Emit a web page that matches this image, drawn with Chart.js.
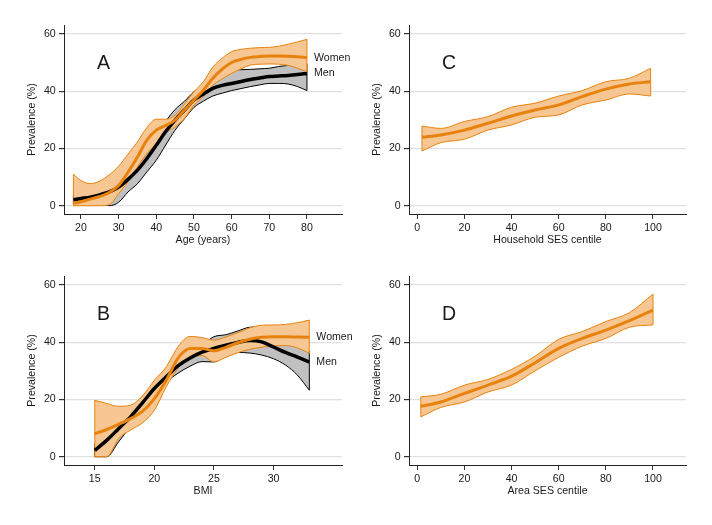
<!DOCTYPE html>
<html>
<head>
<meta charset="utf-8">
<script src="https://cdn.jsdelivr.net/npm/chart.js@4"></script>
<style>
  body { margin: 0; background: #fff; width: 712px; height: 525px; position: relative; overflow: hidden; }
  canvas { position: absolute; }
</style>
</head>
<body>
<canvas id="cA" width="356" height="251" style="left:0;top:0"></canvas>
<canvas id="cC" width="356" height="251" style="left:356px;top:0"></canvas>
<canvas id="cB" width="356" height="274" style="left:0;top:251px"></canvas>
<canvas id="cD" width="356" height="274" style="left:356px;top:251px"></canvas>
<script>
// Panel A: age
const ageX = [18, 20, 22.5, 25, 27.5, 30, 32.5, 35, 37.5, 40, 42.5, 45, 47.5, 50, 52.5, 55, 57.5, 60, 62.5, 65, 67.5, 70, 72.5, 75, 77.5, 80];
const ageWomenMid = [0.9, 1.4, 2.3, 3.2, 4.6, 7.1, 11.7, 17, 22.9, 26.4, 28, 29.9, 33.4, 36.9, 40.3, 44.5, 47.7, 50, 51.1, 51.8, 52.1, 52.3, 52.3, 52.2, 52, 51.7];
const ageWomenHi = [11, 8.8, 7.7, 8.6, 10.8, 13.8, 18, 22.3, 27.3, 30.2, 30.2, 31.6, 35.5, 39.8, 43.3, 48.4, 51.5, 53.8, 54.6, 55, 55.2, 55.3, 55.7, 56.4, 57.2, 58.1];
const ageWomenLo = [0, 0, 0, 0, 0.3, 4.2, 8.3, 13.5, 18.2, 21.7, 25.5, 27.5, 30.5, 35.1, 38.1, 42, 44.3, 46.2, 47.8, 49.1, 49.4, 49.5, 49.4, 49, 48, 46.8];
const ageMenMid = [2.1, 2.5, 3, 3.8, 4.8, 6.5, 9.2, 12.4, 16.5, 21.1, 25.9, 29.9, 33.4, 36.9, 39, 41, 42, 42.7, 43.4, 44.1, 44.6, 45.1, 45.3, 45.5, 45.8, 46.2];
const ageMenHi = [3.6, 4, 4.8, 6, 7.5, 9.5, 12.5, 16, 20, 24.6, 29.5, 33.6, 36.5, 39.8, 42, 44.5, 46.3, 47.4, 47.5, 47.6, 47.8, 48, 48.6, 49, 49.3, 49.5];
const ageMenLo = [0.6, 0.8, 0.8, 0.5, 0, 1.2, 4.8, 7.7, 11.8, 15.9, 21.2, 26.4, 30.4, 34.3, 36.5, 38.3, 39.3, 40.2, 40.9, 41.6, 42.2, 42.7, 42.7, 42.5, 41.6, 40.2];

// Panel B: BMI
const bmiX = [15, 16, 17, 18, 19, 20, 21, 22, 23, 24, 25, 26, 27, 28, 29, 30, 31, 32, 33];
const bmiWomenMid = [8, 9.5, 11.3, 13.3, 15.8, 20.3, 26.7, 34.5, 37.8, 37.8, 37, 38.2, 39.8, 41, 41.7, 41.9, 41.9, 41.8, 41.7];
const bmiWomenHi = [19.7, 18.6, 17.6, 18, 21.2, 26.7, 31.4, 38.5, 42, 41.6, 40.7, 41.8, 43.3, 45, 45.9, 46, 46.2, 46.8, 47.7];
const bmiWomenLo = [0, 0, 6.3, 9.3, 11.8, 16.2, 24.4, 31, 34.5, 35.3, 33.1, 34.7, 36.3, 37.5, 38.2, 38.7, 38.8, 38, 36.1];
const bmiMenMid = [2.2, 5.7, 9.8, 13.9, 18.8, 23.8, 27.9, 31.8, 34.5, 36.5, 37.8, 38.9, 39.9, 40.6, 40.1, 38.3, 36.4, 34.8, 33.1];
const bmiMenHi = [4.5, 8.2, 12.3, 16.6, 21, 25.8, 30, 33.8, 37, 39, 41.9, 42.6, 43.9, 45.2, 45.3, 44.5, 42.5, 40, 37];
const bmiMenLo = [0, 0, 5.2, 10.6, 16.5, 22, 26.1, 29.2, 31.6, 33.2, 33.1, 35.3, 36.4, 36.2, 35.5, 34.2, 32, 28.5, 23.2];

// Panel C: household SES centile
const hhX = [2, 10, 20, 30, 40, 50, 60, 70, 80, 90, 99];
const hhMid = [23.9, 24.7, 26.4, 28.8, 31.3, 33.4, 35.2, 38.1, 40.7, 42.5, 43.3];
const hhHi = [27.8, 27, 29.4, 31.1, 34.4, 35.8, 38.3, 40.2, 43.3, 44.5, 48];
const hhLo = [19.1, 22, 23.2, 26.4, 28.2, 30.9, 31.7, 35.2, 36.9, 39, 38.3];

// Panel D: area SES centile
const areaX = [1.5, 10, 20, 30, 40, 50, 60, 70, 80, 90, 100];
const areaMid = [17.6, 19.1, 22.1, 25, 28.1, 32.8, 37.8, 41.3, 44.2, 47.5, 51.2];
const areaHi = [20.9, 21.8, 25, 27, 30.5, 35.1, 41, 43.7, 47.2, 50.3, 56.8];
const areaLo = [13.9, 17.2, 19.1, 22.6, 25, 30, 34.7, 38.6, 41.3, 45.2, 46];

// tick labels
const yTicks = [0, 20, 40, 60];
const ageTicks = [20, 30, 40, 50, 60, 70, 80];
const bmiTicks = [15, 20, 25, 30];
const centileTicks = [0, 20, 40, 60, 80, 100];

const ORANGE = '#e8820e';
const ORANGE_BAND = '#f6c793';
const GRAY_BAND = '#c0c0c0';
const TEXT = '#1a1a1a';
const FONT = '"Liberation Sans", Arial, sans-serif';

Chart.defaults.font.family = FONT;
Chart.defaults.font.size = 10.6;
Chart.defaults.color = TEXT;

function pts(xs, ys) {
    return xs.map((x, i) => ({ x: x, y: ys[i] }));
}

// vertical closing edges of a band at both ends
function edges(xs, lo, hi) {
    const n = xs.length - 1;
    return [
        { x: xs[0], y: lo[0] }, { x: xs[0], y: hi[0] }, { x: xs[0], y: null },
        { x: xs[n], y: lo[n] }, { x: xs[n], y: hi[n] }
    ];
}

const textPlugin = {
    id: 'panelText',
    afterDraw(chart, args, o) {
        const { ctx, chartArea, scales: { x, y } } = chart;
        ctx.save();
        ctx.fillStyle = TEXT;
        ctx.textBaseline = 'middle';
        ctx.textAlign = 'left';
        ctx.font = '19.5px ' + FONT;
        ctx.fillText(o.letter, chartArea.left + 33, chartArea.top + 39);
        ctx.font = '10.6px ' + FONT;
        (o.labels || []).forEach(l => {
            const xs = l.x, ys = l.y;
            ctx.fillText(l.text, x.getPixelForValue(xs[xs.length - 1]) + 7, y.getPixelForValue(ys[ys.length - 1]));
        });
        ctx.restore();
    }
};

function makePanel(id, cfg) {
    const ds = [];
    cfg.series.forEach((s, k) => {
        ds.push({ data: pts(cfg.x, s.mid), borderColor: s.line, borderWidth: s.lw, order: k,
                  cubicInterpolationMode: 'monotone', fill: false });
    });
    cfg.series.forEach((s, k) => {
        ds.push({ data: edges(cfg.x, s.lo, s.hi), borderColor: s.edge, borderWidth: 1, order: 10 + k,
                  tension: 0, spanGaps: false, fill: false });
        ds.push({ data: pts(cfg.x, s.hi), borderColor: s.edge, borderWidth: 1, order: 10 + k,
                  cubicInterpolationMode: 'monotone', fill: false });
        ds.push({ data: pts(cfg.x, s.lo), borderColor: s.edge, borderWidth: 1, order: 10 + k,
                  cubicInterpolationMode: 'monotone', fill: '-1', backgroundColor: s.band });
    });

    new Chart(document.getElementById(id), {
        type: 'line',
        data: { datasets: ds },
        options: {
            responsive: false,
            animation: false,
            parsing: true,
            elements: { point: { radius: 0 } },
            layout: { padding: { top: 25, right: cfg.rightPad, bottom: cfg.bottomPad, left: 0 } },
            plugins: {
                legend: { display: false },
                tooltip: { enabled: false },
                panelText: { letter: cfg.letter, labels: cfg.labels }
            },
            scales: {
                x: {
                    type: 'linear',
                    min: cfg.xMin,
                    max: cfg.xMax,
                    afterBuildTicks: s => { s.ticks = cfg.xTicks.map(v => ({ value: v })); },
                    afterFit: s => { s.height = 37; },
                    grid: { drawOnChartArea: false, drawTicks: true, tickLength: 5, tickColor: '#333' },
                    border: { color: '#222', width: 1 },
                    ticks: { padding: 3, maxRotation: 0, autoSkip: false, color: TEXT },
                    title: { display: true, text: cfg.xTitle, color: TEXT, padding: { top: 0, bottom: 4.6 } }
                },
                y: {
                    type: 'linear',
                    min: -2.9,
                    max: 63.1,
                    afterBuildTicks: s => { s.ticks = yTicks.map(v => ({ value: v })); },
                    afterFit: s => { s.width = cfg.yWidth; },
                    grid: { color: '#e0e0e0', lineWidth: 1.2, drawTicks: true, tickLength: 5, tickColor: '#333' },
                    border: { color: '#222', width: 1 },
                    ticks: { padding: 3.3, color: TEXT },
                    title: { display: true, text: 'Prevalence (%)', color: TEXT, padding: { top: cfg.yTitlePad, bottom: 0 } }
                }
            }
        },
        plugins: [textPlugin]
    });
}

const women = (x, mid, lo, hi) => ({ mid, lo, hi, line: ORANGE, lw: 3, edge: ORANGE, band: ORANGE_BAND });
const men = (x, mid, lo, hi) => ({ mid, lo, hi, line: '#000', lw: 3.5, edge: '#000', band: GRAY_BAND });

makePanel('cA', {
    letter: 'A', xTitle: 'Age (years)', x: ageX, xMin: 15.5, xMax: 89.3, xTicks: ageTicks,
    yWidth: 64, rightPad: 14, bottomPad: 0, yTitlePad: 25.6,
    series: [women(ageX, ageWomenMid, ageWomenLo, ageWomenHi), men(ageX, ageMenMid, ageMenLo, ageMenHi)],
    labels: [{ text: 'Women', x: ageX, y: ageWomenMid }, { text: 'Men', x: ageX, y: ageMenMid }]
});

makePanel('cB', {
    letter: 'B', xTitle: 'BMI', x: bmiX, xMin: 12.42, xMax: 35.74, xTicks: bmiTicks,
    yWidth: 64, rightPad: 14, bottomPad: 23, yTitlePad: 25.6,
    series: [women(bmiX, bmiWomenMid, bmiWomenLo, bmiWomenHi), men(bmiX, bmiMenMid, bmiMenLo, bmiMenHi)],
    labels: [{ text: 'Women', x: bmiX, y: bmiWomenMid }, { text: 'Men', x: bmiX, y: bmiMenMid }]
});

makePanel('cC', {
    letter: 'C', xTitle: 'Household SES centile', x: hhX, xMin: -3.5, xMax: 114, xTicks: centileTicks,
    yWidth: 53, rightPad: 26, bottomPad: 0, yTitlePad: 14.3,
    series: [women(hhX, hhMid, hhLo, hhHi)],
    labels: []
});

makePanel('cD', {
    letter: 'D', xTitle: 'Area SES centile', x: areaX, xMin: -3.5, xMax: 114, xTicks: centileTicks,
    yWidth: 53, rightPad: 26, bottomPad: 23, yTitlePad: 14.3,
    series: [women(areaX, areaMid, areaLo, areaHi)],
    labels: []
});
</script>
</body>
</html>
